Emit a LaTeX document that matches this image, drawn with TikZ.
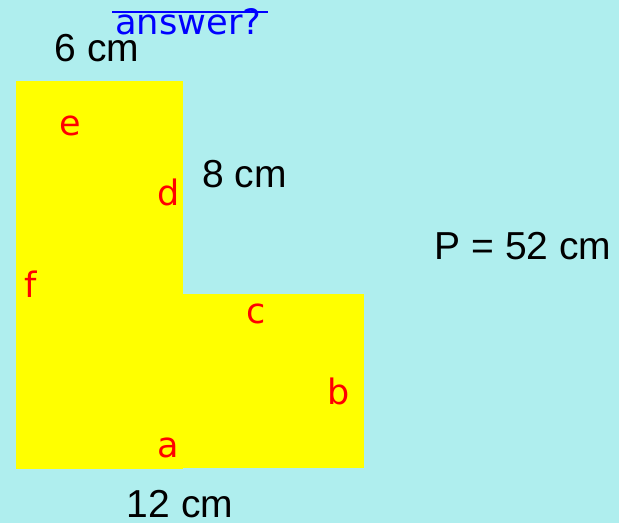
\documentclass[tikz,border=0pt]{standalone}
\usepackage{fontspec}
\setmainfont{Liberation Sans}
\newfontfamily\dejavu{DejaVu Sans}
\definecolor{bgcol}{HTML}{AFEEEE}
\definecolor{shapecol}{HTML}{FFFF00}
\definecolor{lettercol}{HTML}{FF0000}
\definecolor{anscol}{HTML}{0000FF}
\tikzset{
  measure/.style={anchor=base, inner sep=0pt, text=black, font=\fontsize{39}{39}\selectfont},
  sidelabel/.style={anchor=base, inner sep=0pt, text=lettercol, font=\dejavu\fontsize{35}{35}\selectfont},
  answerlabel/.style={anchor=base west, inner sep=0pt, text=anscol, font=\dejavu\fontsize{35}{35}\selectfont},
}
\begin{document}
\begin{tikzpicture}[x=1pt,y=-1pt]
\fill[bgcol] (0,0) rectangle (619,523);
\useasboundingbox (0,0) rectangle (619,523);
\fill[shapecol] (16,81) rectangle (183,469);
\fill[shapecol] (183,294) rectangle (364,468);
% answer
\node[answerlabel] (ans) at (115,34) {\resizebox{146pt}{\height}{answer?}};
\coordinate (ol1) at (112,12);
\coordinate (ol2) at (268,12);
\draw[anscol, line width=2pt] (ol1) -- (ol2);
% measures
\node[measure] (m6) at (97,61) {6 cm};
\node[measure] (m8) at (244.5,187) {8 cm};
\node[measure] (m12) at (180,517) {12 cm};
\node[measure] (per) at (523,259) {P = 52 cm};
% side letters
\node[sidelabel] (le) at (70,135) {e};
\node[sidelabel] (ld) at (169,205) {d};
\node[sidelabel] (lf) at (31,297) {f};
\node[sidelabel] (lc) at (256,323) {c};
\node[sidelabel] (lb) at (339,404) {b};
\node[sidelabel] (la) at (168,457) {a};
\end{tikzpicture}
\end{document}
